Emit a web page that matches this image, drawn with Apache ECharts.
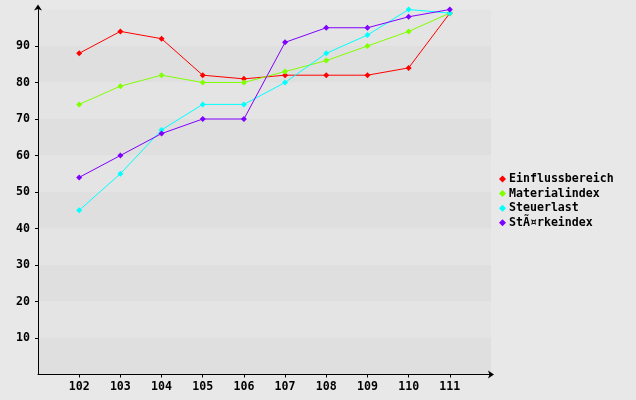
<!DOCTYPE html>
<html><head><meta charset="utf-8">
<script src="https://cdn.jsdelivr.net/npm/echarts@6/dist/echarts.min.js"></script>
<style>html,body{margin:0;padding:0;background:#e8e8e8;}#c{width:636px;height:400px;}</style>
</head><body><div id="c"></div>
<script>
const categories = [102, 103, 104, 105, 106, 107, 108, 109, 110, 111];
const seriesNames = ['Einflussbereich', 'Materialindex', 'Steuerlast', 'StÃ¤rkeindex'];
const einfluss = [88, 94, 92, 82, 81, 82, 82, 82, 84, 99];
const material = [74, 79, 82, 80, 80, 83, 86, 90, 94, 99];
const steuer = [45, 55, 67, 74, 74, 80, 88, 93, 100, 99];
const staerke = [54, 60, 66, 70, 70, 91, 95, 95, 98, 100];
const yTicks = [10, 20, 30, 40, 50, 60, 70, 80, 90];
const colors = ['#ff0000', '#80ff00', '#00ffff', '#8000ff'];

const allData = [einfluss, material, steuer, staerke];
const font = {fontFamily: 'DejaVu Sans Mono', fontWeight: 'bold', fontSize: 11.6, color: '#000'};
const chart = echarts.init(document.getElementById('c'));
chart.setOption({
  backgroundColor: '#e8e8e8',
  animation: false,
  color: colors,
  grid: {left: 38, right: 145, top: 9.5, bottom: 25.5, containLabel: false},
  legend: {
    orient: 'vertical', left: 494, top: 168,
    itemWidth: 7, itemHeight: 7, itemGap: 2.6,
    icon: 'diamond',
    textStyle: Object.assign({}, font, {padding: [0, 0, 0, -2]}),
    data: seriesNames
  },
  xAxis: {
    type: 'value', min: 101, max: 112, interval: 1,
    axisLine: {lineStyle: {color: '#000', width: 1}, symbol: ['none', 'arrow'], symbolSize: [6, 6], symbolOffset: [0, 3]},
    axisTick: {customValues: categories, length: 3, lineStyle: {color: '#000'}},
    axisLabel: Object.assign({customValues: categories, margin: 6}, font),
    splitLine: {show: false}
  },
  yAxis: [{
    type: 'value', min: 0, max: 100, interval: 10,
    axisLine: {show: true, lineStyle: {color: '#000', width: 1}, symbol: ['none', 'arrow'], symbolSize: [6, 6], symbolOffset: [0, 5]},
    axisTick: {show: true, customValues: yTicks, length: 3, lineStyle: {color: '#000'}},
    axisLabel: Object.assign({customValues: yTicks, margin: 8}, font),
    splitLine: {show: false},
    splitArea: {show: false}
  }, {
    type: 'value', min: 0, max: 100, interval: 10, position: 'left', z: 0,
    axisLine: {show: false}, axisTick: {show: false}, axisLabel: {show: false},
    splitLine: {show: false},
    splitArea: {show: true, areaStyle: {color: ['#dfdfdf', '#e4e4e4']}}
  }],
  series: seriesNames.map((n, i) => ({
    name: n, type: 'line', yAxisIndex: 0,
    data: categories.map((c, j) => [c, allData[i][j]]),
    symbol: 'diamond', symbolSize: 6,
    lineStyle: {width: 1, color: colors[i]},
    itemStyle: {color: colors[i]}
  }))
});
</script></body></html>
